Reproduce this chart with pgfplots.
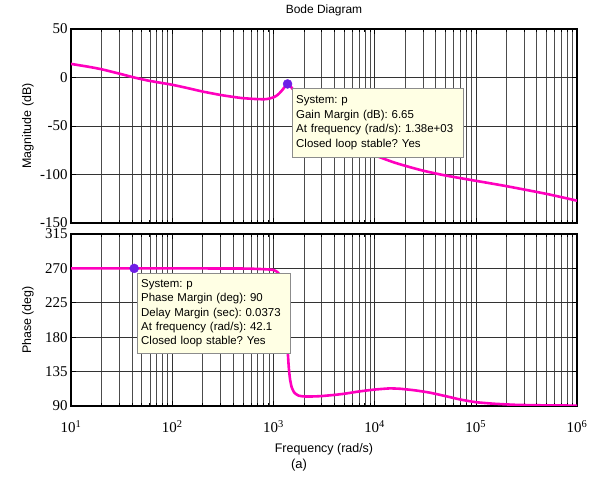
\documentclass[border=0pt]{standalone}
\usepackage{fontspec}
\setmainfont{Liberation Serif}
\setsansfont{Liberation Sans}
\usepackage{pgfplots}
\pgfplotsset{compat=1.18}

\definecolor{curve}{RGB}{255,0,190}
\definecolor{dot}{RGB}{110,30,230}
\definecolor{tip}{RGB}{255,255,228}

\pgfplotsset{bode/.style={
  scale only axis, width=506bp,
  xtick={10,100,1000,10000,100000,1000000},
  minor xtick={20,30,40,50,60,70,80,90,
    200,300,400,500,600,700,800,900,
    2000,3000,4000,5000,6000,7000,8000,9000,
    20000,30000,40000,50000,60000,70000,80000,90000,
    200000,300000,400000,500000,600000,700000,800000,900000},
  grid=both,
  major grid style={black!80, line width=0.6bp},
  minor grid style={black!70, line width=0.5bp},
  axis line style={line width=1.3bp},
  tick align=inside, major tick length=5bp, minor tick length=3bp,
  tick style={black, line width=0.6bp},
  ticklabel style={font=\fontsize{15}{15}\selectfont},
  every axis y label/.style={at={(rel axis cs:0,0.5)}, rotate=90, anchor=center,
    yshift=43bp, font=\sffamily\fontsize{12.5}{13}\selectfont},
}}

\begin{document}
\frenchspacing
\begin{tikzpicture}
\useasboundingbox (0,0) rectangle (596bp,497bp);

% magnitude
\begin{axis}[xmode=log, xmin=10, xmax=1e6, bode,
  at={(71bp,468bp)}, anchor=north west, height=194bp,
  ymin=-150, ymax=50,
  ytick={-150,-100,-50,0,50}, yticklabels={-150,-100,-50,0,50},
  xticklabels={},
  ylabel={Magnitude (dB)},
  title={Bode Diagram},
  title style={at={(rel axis cs:0.5,1)}, anchor=base, inner sep=0pt, yshift=10bp,
    font=\sffamily\fontsize{12}{12}\selectfont},
]
\addplot[curve, line width=2.6bp, smooth, tension=0.4] coordinates {
  (10,14) (15,11) (20,8.5) (30,4) (42.1,0) (60,-3.5) (100,-7.5) (150,-11.5)
  (200,-14.5) (300,-18) (400,-20) (500,-21.3) (700,-22.3) (850,-22.3)
  (1000,-20.5) (1100,-18) (1200,-14) (1300,-9.5) (1380,-6.65) (1430,-7)
  (1500,-10) (1700,-17) (2000,-26) (3000,-44) (5000,-62) (7000,-71)
  (10000,-80) (15000,-87) (20000,-91) (30000,-96) (50000,-101)
  (100000,-106.5) (200000,-112) (500000,-120) (1000000,-127)
};
\addplot[only marks, mark=*, mark size=4.5bp, dot] coordinates {(1380,-6.65)};
\end{axis}

% phase
\begin{axis}[xmode=log, xmin=10, xmax=1e6, bode,
  at={(71bp,263bp)}, anchor=north west, height=172bp,
  ymin=90, ymax=315,
  ytick={90,135,180,225,270,315}, yticklabels={90,135,180,225,270,315},
  xticklabels={10\textsuperscript{1},10\textsuperscript{2},10\textsuperscript{3},10\textsuperscript{4},10\textsuperscript{5},10\textsuperscript{6}},
  xticklabel style={yshift=-11bp},
  ylabel={Phase (deg)},
  xlabel={Frequency (rad/s)},
  every axis x label/.style={at={(rel axis cs:0.5,0)}, anchor=center, yshift=-43bp,
    font=\sffamily\fontsize{12.5}{13}\selectfont},
]
\addplot[curve, line width=2.6bp, smooth, tension=0.3] coordinates {
  (10,270) (100,270) (500,269.8) (800,269) (1000,268) (1100,265) (1200,258)
  (1260,246) (1310,222) (1350,192) (1385,162) (1420,140) (1460,125)
  (1520,114) (1620,107) (1780,103.5) (2000,102.5) (2500,102.5) (3000,103)
  (4000,104.5) (5000,106) (7000,109) (10000,111.5) (14000,113) (18000,112.5)
  (25000,110.5) (35000,107.5) (50000,103) (70000,98.5) (100000,95)
  (150000,93) (250000,91.5) (500000,90.8) (1000000,90.5)
};
\addplot[only marks, mark=*, mark size=4.5bp, dot] coordinates {(42.1,270)};
\end{axis}

% data tips
\node[draw=black!45, fill=tip, anchor=north west, align=left, inner xsep=4bp,
  text width=163bp, minimum height=69bp, font=\sffamily\fontsize{11.5}{14.4}\selectfont]
  at (292bp,409bp) {System: p\\Gain Margin (dB): 6.65\\At frequency (rad/s): 1.38e+03\\Closed loop stable? Yes};
\node[draw=black!45, fill=tip, anchor=north west, align=left, inner xsep=4bp,
  text width=145bp, minimum height=80bp, font=\sffamily\fontsize{11.5}{14.4}\selectfont]
  at (137bp,224bp) {System: p\\Phase Margin (deg): 90\\Delay Margin (sec): 0.0373\\At frequency (rad/s): 42.1\\Closed loop stable? Yes};

\node[font=\sffamily\fontsize{13}{13}\selectfont] at (299bp,32bp) {(a)};
\end{tikzpicture}
\end{document}
